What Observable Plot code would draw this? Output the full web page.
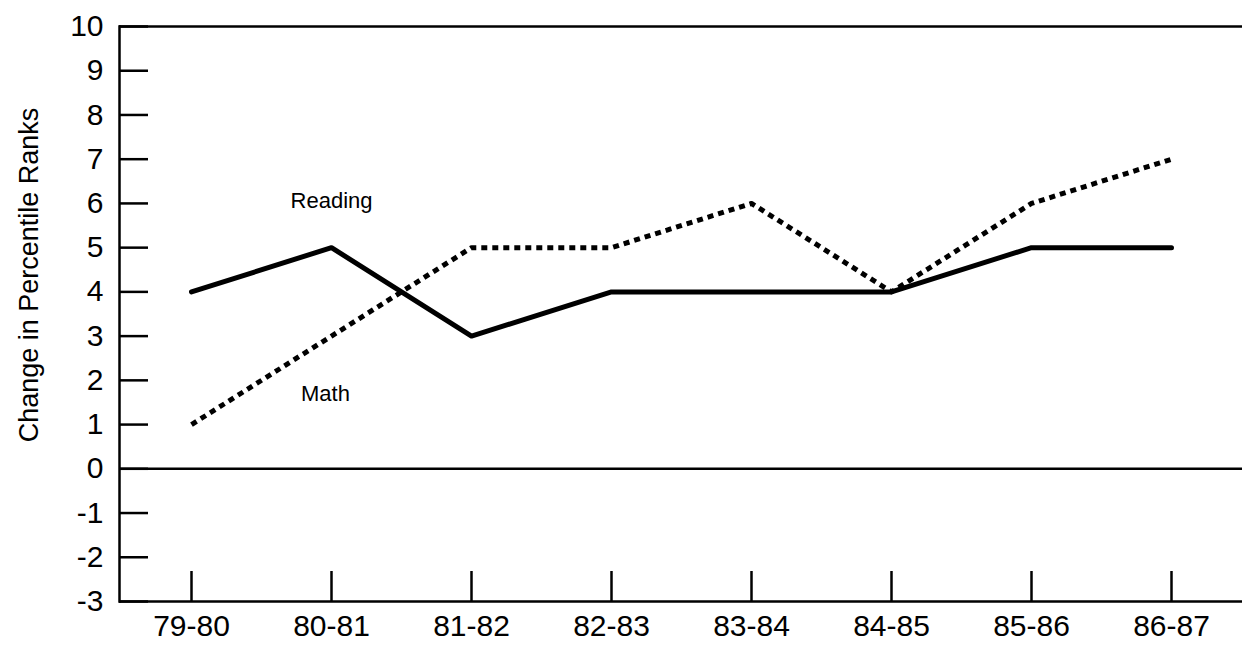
<!DOCTYPE html>
<html>
<head>
<meta charset="utf-8">
<script src="https://cdn.jsdelivr.net/npm/d3@7"></script>
<script src="https://cdn.jsdelivr.net/npm/@observablehq/plot@0.6"></script>
<style>
  html, body { margin: 0; padding: 0; background: #fff; }
  #chart { width: 1242px; height: 649px; }
</style>
</head>
<body>
<div id="chart"></div>
<script>
const categories = ["79-80", "80-81", "81-82", "82-83", "83-84", "84-85", "85-86", "86-87"];
const readingValues = [4, 5, 3, 4, 4, 4, 5, 5];
const mathValues = [1, 3, 5, 5, 6, 4, 6, 7];
const yTickValues = [-3, -2, -1, 0, 1, 2, 3, 4, 5, 6, 7, 8, 9, 10];
const frameLines = [10, 0, -3];
const yLabel = "Change in Percentile Ranks";

const rows = categories.map((c, i) => ({cat: c, reading: readingValues[i], math: mathValues[i]}));

const chart = Plot.plot({
  width: 1242,
  height: 649,
  marginLeft: 119,
  marginRight: 0,
  marginTop: 26,
  marginBottom: 48,
  x: {type: "point", domain: categories, padding: 0.5},
  y: {domain: [-3, 10]},
  style: {fontFamily: "'Liberation Sans', Arial, sans-serif", background: "#fff", color: "#000"},
  marks: [
    Plot.frame({anchor: "left", stroke: "#000", strokeWidth: 2.5}),
    Plot.ruleY(frameLines, {stroke: "#000", strokeWidth: 2.5}),
    Plot.axisY({ticks: yTickValues, tickSize: -29, tickFormat: () => "", strokeWidth: 2.5, label: null}),
    Plot.axisY({ticks: yTickValues, tickSize: 0, tickPadding: 16, fontSize: 30, tickFormat: d => String(d), label: null}),
    Plot.axisX({tickSize: -30, tickFormat: () => "", strokeWidth: 2.5, label: null}),
    Plot.axisX({tickSize: 0, tickPadding: 13, fontSize: 30, label: null}),
    Plot.line(rows, {x: "cat", y: "reading", stroke: "#000", strokeWidth: 5}),
    Plot.line(rows, {x: "cat", y: "math", stroke: "#000", strokeWidth: 5, strokeDasharray: "6,5", strokeLinecap: "butt"}),
    Plot.text(["Reading"], {x: () => "80-81", y: () => 6.05, text: d => d, fontSize: 22, fill: "#000"}),
    Plot.text(["Math"], {x: () => "80-81", y: () => 1.7, text: d => d, fontSize: 22, fill: "#000", dx: -6})
  ]
});

// y-axis title
const svg = d3.select(chart);
svg.append("text")
  .attr("transform", "translate(38, 275) rotate(-90)")
  .attr("text-anchor", "middle")
  .style("font-family", "'Liberation Sans', Arial, sans-serif")
  .style("font-size", "27px")
  .attr("fill", "#000")
  .text(yLabel);

document.getElementById("chart").appendChild(chart);
</script>
</body>
</html>
